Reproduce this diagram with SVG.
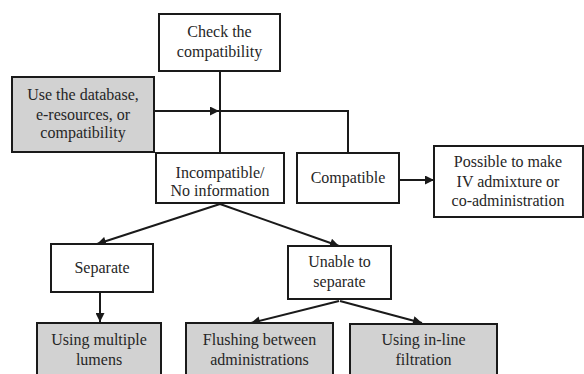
<svg xmlns="http://www.w3.org/2000/svg" width="584" height="374" viewBox="0 0 584 374">
  <style>
    .box { fill: #ffffff; stroke: #1a1a1a; stroke-width: 2; }
    .shade { fill: #d2d2d2; stroke: #1a1a1a; stroke-width: 2; }
    .lbl { font-family: "Liberation Serif", "Times New Roman", serif; font-size: 16px; fill: #262626; text-anchor: middle; }
    .wire { fill: none; stroke: #1a1a1a; stroke-width: 2; }
  </style>
  <defs>
    <marker id="arrow" viewBox="0 0 10 10" refX="10" refY="5" markerWidth="5" markerHeight="4.5" markerUnits="strokeWidth" orient="auto">
      <path d="M0,0 L10,5 L0,10 Z" fill="#1a1a1a"/>
    </marker>
  </defs>
  <rect width="584" height="374" fill="#ffffff"/>

  <g id="connectors">
    <!-- trunk from the check step down to the incompatible branch -->
    <line class="wire" x1="220" y1="71" x2="220" y2="153"/>
    <!-- reference sources feed into the trunk -->
    <line class="wire" x1="154" y1="111" x2="219" y2="111" marker-end="url(#arrow)"/>
    <polyline class="wire" points="219,111 348,111 348,153"/>
    <!-- compatible result -->
    <line class="wire" x1="399" y1="180" x2="434" y2="180" marker-end="url(#arrow)"/>
    <!-- incompatible branches -->
    <line class="wire" x1="220" y1="204" x2="97" y2="244" marker-end="url(#arrow)"/>
    <line class="wire" x1="220" y1="204" x2="339" y2="246" marker-end="url(#arrow)"/>
    <line class="wire" x1="100" y1="292" x2="100" y2="322" marker-end="url(#arrow)"/>
    <!-- unable to separate branches -->
    <line class="wire" x1="339" y1="301" x2="251" y2="323" marker-end="url(#arrow)"/>
    <line class="wire" x1="340" y1="301" x2="422" y2="323" marker-end="url(#arrow)"/>
  </g>

  <g id="check">
    <rect class="box" x="159" y="14" width="121" height="57"/>
    <text class="lbl" x="219.5" y="37">Check the</text>
    <text class="lbl" x="219.5" y="57">compatibility</text>
  </g>

  <g id="sources">
    <rect class="shade" x="12" y="77" width="142" height="75"/>
    <text class="lbl" x="83" y="100">Use the database,</text>
    <text class="lbl" x="83" y="120">e-resources, or</text>
    <text class="lbl" x="83" y="138">compatibility</text>
  </g>

  <g id="incompatible">
    <rect class="box" x="156" y="153" width="128" height="50"/>
    <text class="lbl" x="220" y="178">Incompatible/</text>
    <text class="lbl" x="220" y="196">No information</text>
  </g>

  <g id="compatible">
    <rect class="box" x="297" y="153" width="102" height="50"/>
    <text class="lbl" x="348" y="183">Compatible</text>
  </g>

  <g id="possible">
    <rect class="box" x="434" y="146" width="149" height="71"/>
    <text class="lbl" x="508" y="167">Possible to make</text>
    <text class="lbl" x="508" y="187">IV admixture or</text>
    <text class="lbl" x="508" y="206">co-administration</text>
  </g>

  <g id="separate">
    <rect class="box" x="51" y="244" width="102" height="48"/>
    <text class="lbl" x="102" y="273">Separate</text>
  </g>

  <g id="unable">
    <rect class="box" x="288" y="246" width="103" height="53"/>
    <text class="lbl" x="339.5" y="267">Unable to</text>
    <text class="lbl" x="339.5" y="287">separate</text>
  </g>

  <g id="lumens">
    <rect class="shade" x="37" y="323" width="124" height="60"/>
    <text class="lbl" x="99" y="345">Using multiple</text>
    <text class="lbl" x="99" y="365">lumens</text>
  </g>

  <g id="flushing">
    <rect class="shade" x="186" y="323" width="147" height="60"/>
    <text class="lbl" x="259.5" y="345">Flushing between</text>
    <text class="lbl" x="259.5" y="365">administrations</text>
  </g>

  <g id="filtration">
    <rect class="shade" x="350" y="324" width="147" height="60"/>
    <text class="lbl" x="423.5" y="345">Using in-line</text>
    <text class="lbl" x="423.5" y="365">filtration</text>
  </g>
</svg>
